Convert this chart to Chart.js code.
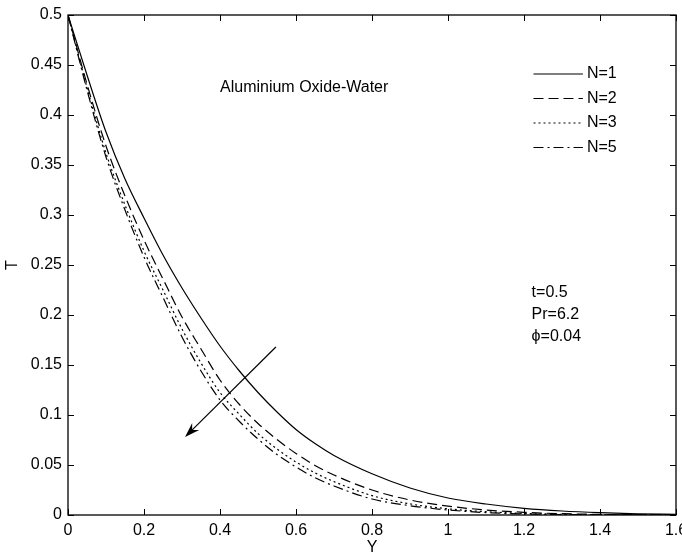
<!DOCTYPE html>
<html>
<head>
<meta charset="utf-8">
<script src="https://cdn.jsdelivr.net/npm/chart.js@4.4.1/dist/chart.umd.min.js"></script>
<style>
  html, body { margin: 0; padding: 0; background: #fff; }
  #wrap { width: 682px; height: 557px; position: relative; }
</style>
</head>
<body>
<div id="wrap"><canvas id="tChart"></canvas></div>
<script>
// Y positions
const yVals = [0, 0.05, 0.1, 0.15, 0.2, 0.25, 0.3, 0.35, 0.4, 0.45, 0.5, 0.55, 0.6, 0.65, 0.7, 0.8, 0.9, 1.0, 1.1, 1.2, 1.3, 1.4, 1.5, 1.6];
// temperature profiles
const tN1 = [0.5, 0.44, 0.383, 0.336, 0.297, 0.26, 0.227, 0.197, 0.169, 0.1445, 0.1225, 0.103, 0.0855, 0.0714, 0.0595, 0.0412, 0.027, 0.017, 0.011, 0.0067, 0.004, 0.0023, 0.0012, 0.0006];
const tN2 = [0.5, 0.431, 0.369, 0.319, 0.275, 0.236, 0.198, 0.166, 0.135, 0.111, 0.0915, 0.0755, 0.0615, 0.0496, 0.040, 0.025, 0.015, 0.0089, 0.005, 0.0027, 0.0013, 0.0006, 0.0003, 0.0001];
const tN3 = [0.5, 0.4275, 0.362, 0.310, 0.264, 0.225, 0.186, 0.152, 0.1225, 0.101, 0.0815, 0.066, 0.053, 0.0421, 0.0334, 0.0194, 0.0111, 0.0062, 0.0033, 0.0016, 0.0007, 0.0003, 0.0001, 0.00005];
const tN5 = [0.5, 0.425, 0.358, 0.305, 0.258, 0.2175, 0.178, 0.144, 0.115, 0.094, 0.076, 0.0605, 0.048, 0.0373, 0.029, 0.016, 0.0093, 0.005, 0.0024, 0.0011, 0.0004, 0.0002, 0.0001, 0.00005];
const seriesLabels = ['N=1', 'N=2', 'N=3', 'N=5'];
const dashes = [[], [10, 5], [2, 3], [10, 4, 2, 4]];

const xTicks = [0, 0.2, 0.4, 0.6, 0.8, 1, 1.2, 1.4, 1.6];
const yTicks = [0, 0.05, 0.1, 0.15, 0.2, 0.25, 0.3, 0.35, 0.4, 0.45, 0.5];

// arrow from -> to (data coords)
const arrowFrom = [0.547, 0.168];
const arrowTo = [0.308, 0.078];

const FONT = '"Liberation Sans", Arial, sans-serif';

function pts(arr) {
    return yVals.map((y, i) => ({ x: y, y: arr[i] }));
}

const allSeries = [tN1, tN2, tN3, tN5];
const datasets = allSeries.map((s, i) => ({
    label: seriesLabels[i],
    data: pts(s),
    borderColor: '#000',
    borderWidth: 1.2,
    borderDash: dashes[i],
    pointRadius: 0,
    fill: false,
    cubicInterpolationMode: 'monotone'
}));

const extras = {
    id: 'extras',
    afterDraw(chart) {
        const ctx = chart.ctx;
        const xs = chart.scales.x, ys = chart.scales.y;
        const a = chart.chartArea;
        ctx.save();
        ctx.strokeStyle = '#000';
        ctx.lineWidth = 1.3;
        ctx.setLineDash([]);
        ctx.strokeRect(a.left, a.top, a.right - a.left, a.bottom - a.top);
        // inward ticks on all four sides
        ctx.lineWidth = 1;
        ctx.beginPath();
        xTicks.forEach(v => {
            const px = Math.round(xs.getPixelForValue(v)) + 0.5;
            ctx.moveTo(px, a.bottom); ctx.lineTo(px, a.bottom - 6);
            ctx.moveTo(px, a.top); ctx.lineTo(px, a.top + 6);
        });
        yTicks.forEach(v => {
            const py = Math.round(ys.getPixelForValue(v)) + 0.5;
            ctx.moveTo(a.left, py); ctx.lineTo(a.left + 6, py);
            ctx.moveTo(a.right, py); ctx.lineTo(a.right - 6, py);
        });
        ctx.stroke();

        // legend
        ctx.font = '16px ' + FONT;
        ctx.fillStyle = '#000';
        ctx.textBaseline = 'middle';
        ctx.textAlign = 'left';
        const lx0 = xs.getPixelForValue(1.225), lx1 = xs.getPixelForValue(1.355);
        chart.data.datasets.forEach((ds, i) => {
            const ly = ys.getPixelForValue(0.441 - i * 0.0245);
            ctx.beginPath();
            ctx.setLineDash(ds.borderDash);
            ctx.lineWidth = 1.2;
            ctx.moveTo(lx0, ly); ctx.lineTo(lx1, ly);
            ctx.stroke();
            ctx.setLineDash([]);
            ctx.fillText(ds.label, lx1 + 4, ly);
        });

        // annotations
        ctx.fillText('Aluminium Oxide-Water', xs.getPixelForValue(0.4), ys.getPixelForValue(0.427));
        const px = xs.getPixelForValue(1.22);
        ctx.fillText('t=0.5', px, ys.getPixelForValue(0.222));
        ctx.fillText('Pr=6.2', px, ys.getPixelForValue(0.2));
        ctx.fillText('\u03D5=0.04', px, ys.getPixelForValue(0.178));

        // arrow
        const x0 = xs.getPixelForValue(arrowFrom[0]), y0 = ys.getPixelForValue(arrowFrom[1]);
        const x1 = xs.getPixelForValue(arrowTo[0]), y1 = ys.getPixelForValue(arrowTo[1]);
        const ang = Math.atan2(y1 - y0, x1 - x0);
        ctx.lineWidth = 1.2;
        ctx.beginPath();
        ctx.moveTo(x0, y0); ctx.lineTo(x1 - 8 * Math.cos(ang), y1 - 8 * Math.sin(ang));
        ctx.stroke();
        ctx.beginPath();
        ctx.moveTo(x1, y1);
        ctx.lineTo(x1 - 15 * Math.cos(ang) + 5 * Math.sin(ang), y1 - 15 * Math.sin(ang) - 5 * Math.cos(ang));
        ctx.lineTo(x1 - 10 * Math.cos(ang), y1 - 10 * Math.sin(ang));
        ctx.lineTo(x1 - 15 * Math.cos(ang) - 5 * Math.sin(ang), y1 - 15 * Math.sin(ang) + 5 * Math.cos(ang));
        ctx.closePath();
        ctx.fill();
        ctx.restore();
    }
};

const fmt = v => String(parseFloat(Number(v).toFixed(2)));

new Chart(document.getElementById('tChart'), {
    type: 'line',
    data: { datasets: datasets },
    options: {
        responsive: true,
        maintainAspectRatio: false,
        animation: false,
        layout: { padding: { top: 15, right: 6, left: 0, bottom: 0 } },
        plugins: { legend: { display: false }, tooltip: { enabled: false } },
        scales: {
            x: {
                type: 'linear', min: 0, max: 1.6,
                afterBuildTicks: s => { s.ticks = xTicks.map(v => ({ value: v })); },
                afterFit: s => { s.height = 42; s.paddingLeft = 0; s.paddingRight = 0; },
                grid: { display: false, drawTicks: false },
                border: { display: false },
                ticks: { color: '#000', padding: 6, maxRotation: 0, font: { family: FONT, size: 16 }, callback: fmt },
                title: { display: true, text: 'Y', color: '#000', font: { family: FONT, size: 16 }, padding: { top: 4, bottom: 0 } }
            },
            y: {
                type: 'linear', min: 0, max: 0.5,
                afterBuildTicks: s => { s.ticks = yTicks.map(v => ({ value: v })); },
                afterFit: s => { s.width = 68; s.paddingTop = 0; s.paddingBottom = 0; },
                grid: { display: false, drawTicks: false },
                border: { display: false },
                ticks: { color: '#000', padding: 6, font: { family: FONT, size: 16 }, callback: fmt },
                title: { display: true, text: 'T', color: '#000', font: { family: FONT, size: 16 }, padding: { top: 3, bottom: 2 } }
            }
        }
    },
    plugins: [extras]
});
</script>
</body>
</html>
